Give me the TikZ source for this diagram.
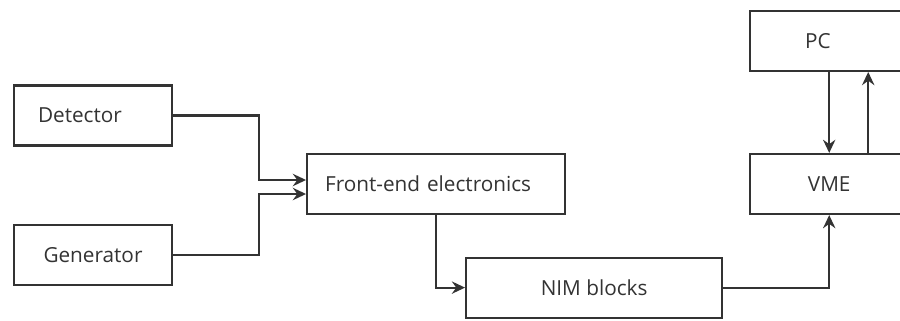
\documentclass[tikz,border=0pt]{standalone}
\usepackage{fontspec}
\setmainfont{Open Sans}
\usepackage{tikz}
\usetikzlibrary{arrows.meta, positioning}
\definecolor{LineGray}{HTML}{333333}
\tikzset{
  blockbox/.style={rectangle, draw=LineGray, line width=1.2pt, fill=white, minimum height=1.2cm, text=LineGray, font=\fontsize{11.8}{14}\selectfont, align=center},
  leftbox/.style={blockbox, align=left, inner xsep=#1},
  arrow/.style={-{Stealth[length=7.5pt, width=7pt, inset=2.5pt]}, line width=1.2pt, LineGray}
}
\begin{document}
\begin{tikzpicture}
  \useasboundingbox (0,0) rectangle (18,-6.4);
  \clip (0,0) rectangle (18,-6.4);

  \node[leftbox=0.48cm, minimum width=3.16cm, text width=2.2cm] (det) at (1.86,-2.31) {Detector};
  \node[blockbox, minimum width=3.16cm, below=1.54cm of det] (gen) {Generator};

  \node[leftbox=0.36cm, minimum width=5.16cm, text width=4.44cm, right=2.66cm of det, yshift=-1.37cm] (fe) {Front-end electronics};
  \node[blockbox, minimum width=5.12cm, below=0.83cm of fe, xshift=3.16cm] (nim) {NIM blocks};

  \node[blockbox, minimum width=3.16cm, right=3.66cm of fe] (vme) {VME};
  \node[leftbox=1.1cm, minimum width=3.16cm, text width=0.96cm, above=1.62cm of vme] (pc) {PC};

  \draw[arrow] (det.east) -- ++(1.72,0) |- ([yshift=0.08cm]fe.west);
  \draw[arrow] (gen.east) -- ++(1.72,0) |- ([yshift=-0.2cm]fe.west);
  \draw[arrow] (fe.south) |- (nim.west);
  \draw[arrow] (nim.east) -| (vme.south);
  \draw[arrow] (pc.south) -- (vme.north);
  \draw[arrow] ([xshift=0.78cm]vme.north) -- ([xshift=0.78cm]pc.south);
\end{tikzpicture}
\end{document}
